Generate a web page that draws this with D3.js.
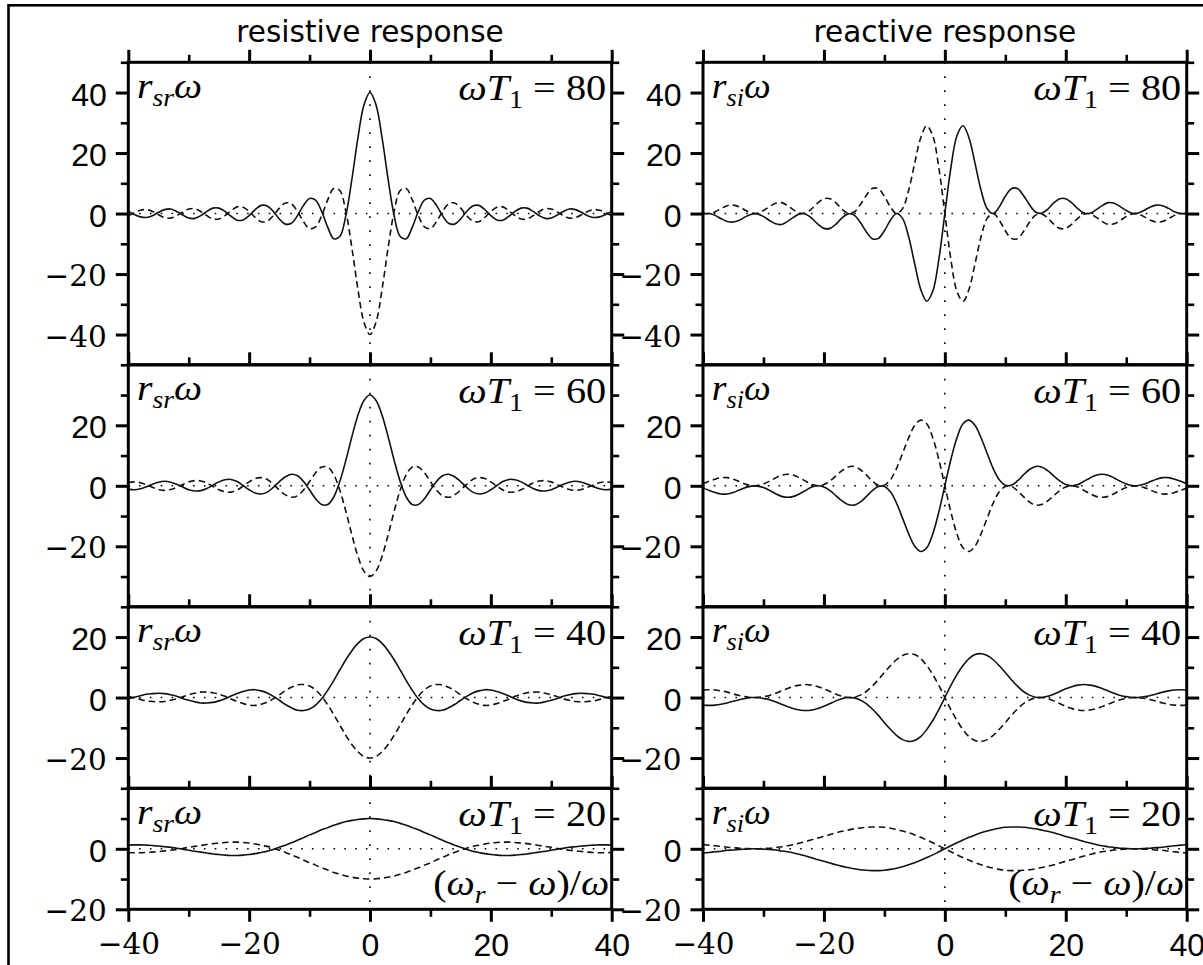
<!DOCTYPE html>
<html><head><meta charset="utf-8">
<script src="https://cdn.jsdelivr.net/npm/d3@7"></script>
<style>body{margin:0;background:#fff} svg{display:block}</style>
</head><body>
<svg id="chart" width="1203" height="965"></svg>
<script>
// ---------- data ----------
const xValues = [-40,-39,-38,-37,-36,-35,-34,-33,-32,-31,-30,-29,-28,-27,-26,-25,-24,-23,-22,-21,-20,-19,-18,-17,-16,-15,-14,-13,-12,-11,-10,-9,-8,-7,-6,-5,-4,-3,-2,-1,0,1,2,3,4,5,6,7,8,9,10,11,12,13,14,15,16,17,18,19,20,21,22,23,24,25,26,27,28,29,30,31,32,33,34,35,36,37,38,39,40];
const omegaT1 = [80, 60, 40, 20];
const columnTitles = ["resistive response", "reactive response"];
const xTicksMajor = [-40, -20, 0, 20, 40];
const xTicksMinor = [-30, -10, 10, 30];
const rowLimits = [50, 40, 30, 20];
const rowTicksMajor = [[-40,-20,0,20,40], [-20,0,20], [-20,0,20], [-20,0]];
const rowTicksMinor = [[-50,-30,-10,10,30,50], [-30,-10,10,30], [-30,-10,10,30], [-10,10]];

const resistiveSolid80 = [0.7,-0.3,-1.1,-1.3,-0.7,0.4,1.3,1.5,0.7,-0.5,-1.5,-1.6,-0.7,0.7,1.8,1.8,0.7,-0.9,-2.2,-2.1,-0.7,1.3,2.7,2.5,0.7,-1.8,-3.5,-3.2,-0.7,2.7,5.0,4.4,0.7,-4.5,-8.3,-7.6,-0.7,11.3,25.0,35.9,40.0,35.9,25.0,11.3,-0.7,-7.6,-8.3,-4.5,0.7,4.4,5.0,2.7,-0.7,-3.2,-3.5,-1.8,0.7,2.5,2.7,1.3,-0.7,-2.1,-2.2,-0.9,0.7,1.8,1.8,0.7,-0.7,-1.6,-1.5,-0.5,0.7,1.5,1.3,0.4,-0.7,-1.3,-1.1,-0.3,0.7];
const resistiveDashed80 = [-0.7,0.3,1.1,1.3,0.7,-0.4,-1.3,-1.5,-0.7,0.5,1.5,1.6,0.7,-0.7,-1.8,-1.8,-0.7,0.9,2.2,2.1,0.7,-1.3,-2.7,-2.5,-0.7,1.8,3.5,3.2,0.7,-2.7,-5.0,-4.4,-0.7,4.5,8.3,7.6,0.7,-11.3,-25.0,-35.9,-40.0,-35.9,-25.0,-11.3,0.7,7.6,8.3,4.5,-0.7,-4.4,-5.0,-2.7,0.7,3.2,3.5,1.8,-0.7,-2.5,-2.7,-1.3,0.7,2.1,2.2,0.9,-0.7,-1.8,-1.8,-0.7,0.7,1.6,1.5,0.5,-0.7,-1.5,-1.3,-0.4,0.7,1.3,1.1,0.3,-0.7];
const resistiveSolid60 = [-1.1,-1.3,-1.0,-0.3,0.5,1.2,1.5,1.2,0.5,-0.4,-1.3,-1.7,-1.6,-0.9,0.2,1.3,2.0,2.1,1.4,0.1,-1.3,-2.4,-2.7,-2.1,-0.5,1.4,3.0,3.8,3.3,1.4,-1.4,-4.3,-6.2,-6.2,-3.7,1.4,8.4,16.2,23.3,28.2,30.0,28.2,23.3,16.2,8.4,1.4,-3.7,-6.2,-6.2,-4.3,-1.4,1.4,3.3,3.8,3.0,1.4,-0.5,-2.1,-2.7,-2.4,-1.3,0.1,1.4,2.1,2.0,1.3,0.2,-0.9,-1.6,-1.7,-1.3,-0.4,0.5,1.2,1.5,1.2,0.5,-0.3,-1.0,-1.3,-1.1];
const resistiveDashed60 = [1.1,1.3,1.0,0.3,-0.5,-1.2,-1.5,-1.2,-0.5,0.4,1.3,1.7,1.6,0.9,-0.2,-1.3,-2.0,-2.1,-1.4,-0.1,1.3,2.4,2.7,2.1,0.5,-1.4,-3.0,-3.8,-3.3,-1.4,1.4,4.3,6.2,6.2,3.7,-1.4,-8.4,-16.2,-23.3,-28.2,-30.0,-28.2,-23.3,-16.2,-8.4,-1.4,3.7,6.2,6.2,4.3,1.4,-1.4,-3.3,-3.8,-3.0,-1.4,0.5,2.1,2.7,2.4,1.3,-0.1,-1.4,-2.1,-2.0,-1.3,-0.2,0.9,1.6,1.7,1.3,0.4,-0.5,-1.2,-1.5,-1.2,-0.5,0.3,1.0,1.3,1.1];
const resistiveSolid40 = [-0.4,0.1,0.6,1.1,1.3,1.4,1.3,0.9,0.4,-0.3,-0.9,-1.4,-1.8,-1.8,-1.6,-1.1,-0.4,0.5,1.3,2.0,2.5,2.6,2.2,1.5,0.4,-0.9,-2.3,-3.4,-4.2,-4.3,-3.8,-2.5,-0.4,2.4,5.6,9.1,12.5,15.5,17.9,19.5,20.0,19.5,17.9,15.5,12.5,9.1,5.6,2.4,-0.4,-2.5,-3.8,-4.3,-4.2,-3.4,-2.3,-0.9,0.4,1.5,2.2,2.6,2.5,2.0,1.3,0.5,-0.4,-1.1,-1.6,-1.8,-1.8,-1.4,-0.9,-0.3,0.4,0.9,1.3,1.4,1.3,1.1,0.6,0.1,-0.4];
const resistiveDashed40 = [0.4,-0.1,-0.6,-1.1,-1.3,-1.4,-1.3,-0.9,-0.4,0.3,0.9,1.4,1.8,1.8,1.6,1.1,0.4,-0.5,-1.3,-2.0,-2.5,-2.6,-2.2,-1.5,-0.4,0.9,2.3,3.4,4.2,4.3,3.8,2.5,0.4,-2.4,-5.6,-9.1,-12.5,-15.5,-17.9,-19.5,-20.0,-19.5,-17.9,-15.5,-12.5,-9.1,-5.6,-2.4,0.4,2.5,3.8,4.3,4.2,3.4,2.3,0.9,-0.4,-1.5,-2.2,-2.6,-2.5,-2.0,-1.3,-0.5,0.4,1.1,1.6,1.8,1.8,1.4,0.9,0.3,-0.4,-0.9,-1.3,-1.4,-1.3,-1.1,-0.6,-0.1,0.4];
const resistiveSolid20 = [1.2,1.3,1.3,1.2,1.1,0.9,0.7,0.5,0.2,-0.1,-0.5,-0.8,-1.1,-1.4,-1.7,-1.9,-2.1,-2.2,-2.2,-2.1,-1.9,-1.6,-1.2,-0.8,-0.2,0.5,1.2,2.0,2.8,3.7,4.6,5.4,6.3,7.0,7.8,8.4,9.0,9.4,9.7,9.9,10.0,9.9,9.7,9.4,9.0,8.4,7.8,7.0,6.3,5.4,4.6,3.7,2.8,2.0,1.2,0.5,-0.2,-0.8,-1.2,-1.6,-1.9,-2.1,-2.2,-2.2,-2.1,-1.9,-1.7,-1.4,-1.1,-0.8,-0.5,-0.1,0.2,0.5,0.7,0.9,1.1,1.2,1.3,1.3,1.2];
const resistiveDashed20 = [-1.2,-1.3,-1.3,-1.2,-1.1,-0.9,-0.7,-0.5,-0.2,0.1,0.5,0.8,1.1,1.4,1.7,1.9,2.1,2.2,2.2,2.1,1.9,1.6,1.2,0.8,0.2,-0.5,-1.2,-2.0,-2.8,-3.7,-4.6,-5.4,-6.3,-7.0,-7.8,-8.4,-9.0,-9.4,-9.7,-9.9,-10.0,-9.9,-9.7,-9.4,-9.0,-8.4,-7.8,-7.0,-6.3,-5.4,-4.6,-3.7,-2.8,-2.0,-1.2,-0.5,0.2,0.8,1.2,1.6,1.9,2.1,2.2,2.2,2.1,1.9,1.7,1.4,1.1,0.8,0.5,0.1,-0.2,-0.5,-0.7,-0.9,-1.1,-1.2,-1.3,-1.3,-1.2];

const reactiveSolid80 = [-0.2,0.0,-0.6,-1.7,-2.6,-2.8,-2.2,-1.1,-0.2,-0.1,-1.0,-2.3,-3.4,-3.6,-2.6,-1.2,-0.1,-0.2,-1.6,-3.5,-4.9,-4.9,-3.5,-1.4,-0.1,-0.5,-2.9,-6.0,-8.3,-8.2,-5.7,-2.2,0.0,-1.6,-7.6,-16.5,-25.0,-29.0,-25.7,-15.2,0.0,15.2,25.7,29.0,25.0,16.5,7.6,1.6,0.0,2.2,5.7,8.2,8.3,6.0,2.9,0.5,0.1,1.4,3.5,4.9,4.9,3.5,1.6,0.2,0.1,1.2,2.6,3.6,3.4,2.3,1.0,0.1,0.2,1.1,2.2,2.8,2.6,1.7,0.6,0.0,0.2];
const reactiveDashed80 = [0.2,0.0,0.6,1.7,2.6,2.8,2.2,1.1,0.2,0.1,1.0,2.3,3.4,3.6,2.6,1.2,0.1,0.2,1.6,3.5,4.9,4.9,3.5,1.4,0.1,0.5,2.9,6.0,8.3,8.2,5.7,2.2,0.0,1.6,7.6,16.5,25.0,29.0,25.7,15.2,0.0,-15.2,-25.7,-29.0,-25.0,-16.5,-7.6,-1.6,0.0,-2.2,-5.7,-8.2,-8.3,-6.0,-2.9,-0.5,-0.1,-1.4,-3.5,-4.9,-4.9,-3.5,-1.6,-0.2,-0.1,-1.2,-2.6,-3.6,-3.4,-2.3,-1.0,-0.1,-0.2,-1.1,-2.2,-2.8,-2.6,-1.7,-0.6,0.0,-0.2];
const reactiveSolid60 = [-0.7,-1.5,-2.2,-2.7,-2.7,-2.2,-1.4,-0.6,-0.1,-0.1,-0.6,-1.5,-2.6,-3.5,-3.8,-3.5,-2.6,-1.5,-0.4,0.0,-0.4,-1.6,-3.3,-5.0,-6.2,-6.4,-5.4,-3.6,-1.6,-0.2,-0.2,-2.0,-5.7,-10.7,-15.8,-19.9,-21.7,-20.5,-15.9,-8.7,0.0,8.7,15.9,20.5,21.7,19.9,15.8,10.7,5.7,2.0,0.2,0.2,1.6,3.6,5.4,6.4,6.2,5.0,3.3,1.6,0.4,0.0,0.4,1.5,2.6,3.5,3.8,3.5,2.6,1.5,0.6,0.1,0.1,0.6,1.4,2.2,2.7,2.7,2.2,1.5,0.7];
const reactiveDashed60 = [0.7,1.5,2.2,2.7,2.7,2.2,1.4,0.6,0.1,0.1,0.6,1.5,2.6,3.5,3.8,3.5,2.6,1.5,0.4,0.0,0.4,1.6,3.3,5.0,6.2,6.4,5.4,3.6,1.6,0.2,0.2,2.0,5.7,10.7,15.8,19.9,21.7,20.5,15.9,8.7,0.0,-8.7,-15.9,-20.5,-21.7,-19.9,-15.8,-10.7,-5.7,-2.0,-0.2,-0.2,-1.6,-3.6,-5.4,-6.4,-6.2,-5.0,-3.3,-1.6,-0.4,0.0,-0.4,-1.5,-2.6,-3.5,-3.8,-3.5,-2.6,-1.5,-0.6,-0.1,-0.1,-0.6,-1.4,-2.2,-2.7,-2.7,-2.2,-1.5,-0.7];
const reactiveSolid40 = [-2.5,-2.6,-2.5,-2.2,-1.8,-1.2,-0.7,-0.3,0.0,0.0,-0.3,-0.7,-1.4,-2.2,-3.0,-3.7,-4.1,-4.3,-4.1,-3.6,-2.9,-2.0,-1.1,-0.4,0.0,-0.1,-0.8,-2.0,-3.8,-5.9,-8.3,-10.5,-12.5,-13.9,-14.5,-14.2,-12.9,-10.6,-7.6,-4.0,0.0,4.0,7.6,10.6,12.9,14.2,14.5,13.9,12.5,10.5,8.3,5.9,3.8,2.0,0.8,0.1,0.0,0.4,1.1,2.0,2.9,3.6,4.1,4.3,4.1,3.7,3.0,2.2,1.4,0.7,0.3,0.0,0.0,0.3,0.7,1.2,1.8,2.2,2.5,2.6,2.5];
const reactiveDashed40 = [2.5,2.6,2.5,2.2,1.8,1.2,0.7,0.3,0.0,0.0,0.3,0.7,1.4,2.2,3.0,3.7,4.1,4.3,4.1,3.6,2.9,2.0,1.1,0.4,0.0,0.1,0.8,2.0,3.8,5.9,8.3,10.5,12.5,13.9,14.5,14.2,12.9,10.6,7.6,4.0,0.0,-4.0,-7.6,-10.6,-12.9,-14.2,-14.5,-13.9,-12.5,-10.5,-8.3,-5.9,-3.8,-2.0,-0.8,-0.1,0.0,-0.4,-1.1,-2.0,-2.9,-3.6,-4.1,-4.3,-4.1,-3.7,-3.0,-2.2,-1.4,-0.7,-0.3,0.0,0.0,-0.3,-0.7,-1.2,-1.8,-2.2,-2.5,-2.6,-2.5];
const reactiveSolid20 = [-1.4,-1.2,-1.0,-0.8,-0.5,-0.4,-0.2,-0.1,0.0,0.0,-0.1,-0.2,-0.4,-0.7,-1.0,-1.4,-1.9,-2.4,-3.0,-3.6,-4.1,-4.7,-5.3,-5.8,-6.2,-6.6,-6.9,-7.1,-7.2,-7.2,-7.1,-6.8,-6.4,-5.9,-5.3,-4.6,-3.8,-2.9,-2.0,-1.0,0.0,1.0,2.0,2.9,3.8,4.6,5.3,5.9,6.4,6.8,7.1,7.2,7.2,7.1,6.9,6.6,6.2,5.8,5.3,4.7,4.1,3.6,3.0,2.4,1.9,1.4,1.0,0.7,0.4,0.2,0.1,0.0,0.0,0.1,0.2,0.4,0.5,0.8,1.0,1.2,1.4];
const reactiveDashed20 = [1.4,1.2,1.0,0.8,0.5,0.4,0.2,0.1,0.0,0.0,0.1,0.2,0.4,0.7,1.0,1.4,1.9,2.4,3.0,3.6,4.1,4.7,5.3,5.8,6.2,6.6,6.9,7.1,7.2,7.2,7.1,6.8,6.4,5.9,5.3,4.6,3.8,2.9,2.0,1.0,0.0,-1.0,-2.0,-2.9,-3.8,-4.6,-5.3,-5.9,-6.4,-6.8,-7.1,-7.2,-7.2,-7.1,-6.9,-6.6,-6.2,-5.8,-5.3,-4.7,-4.1,-3.6,-3.0,-2.4,-1.9,-1.4,-1.0,-0.7,-0.4,-0.2,-0.1,0.0,0.0,-0.1,-0.2,-0.4,-0.5,-0.8,-1.0,-1.2,-1.4];

// ---------- layout ----------
const W = 1203, H = 965;
const plotTop = 62.3, pxPerUnit = 3.025;
const SANS = "'Liberation Sans', Arial, sans-serif";
const SERIF = "'DejaVu Serif', serif";
const TITLE = "'DejaVu Sans', sans-serif";
const MATH = "'Liberation Serif', serif";

const svg = d3.select("#chart");
svg.append("rect").attr("width", W).attr("height", H).attr("fill", "#fff");
svg.append("rect").attr("x", 8.5).attr("y", 5.3).attr("width", 1400).attr("height", 1200)
  .attr("fill", "none").attr("stroke", "#000").attr("stroke-width", 2.6);

const rows = omegaT1.map((w, i) => ({ w, lim: rowLimits[i], major: rowTicksMajor[i], minor: rowTicksMinor[i] }));
let acc = plotTop;
rows.forEach(r => { r.top = acc; r.bottom = acc + 2 * r.lim * pxPerUnit; acc = r.bottom; });

const columns = [
  { title: columnTitles[0], left: 128.3, right: 611.7, sub: "sr", subW: 65,
    solid: [resistiveSolid80, resistiveSolid60, resistiveSolid40, resistiveSolid20],
    dashed: [resistiveDashed80, resistiveDashed60, resistiveDashed40, resistiveDashed20] },
  { title: columnTitles[1], left: 703, right: 1186.7, sub: "si", subW: 59,
    solid: [reactiveSolid80, reactiveSolid60, reactiveSolid40, reactiveSolid20],
    dashed: [reactiveDashed80, reactiveDashed60, reactiveDashed40, reactiveDashed20] }
];

const fmt = d => d < 0 ? "\u2212" + (-d) : String(d);

// tick label: positive values in sans, negative values in serif (as in the reference)
function styleTickText(sel) {
  sel.each(function (d) {
    const t = d3.select(this);
    t.attr("fill", "#000");
    if (d < 0) t.style("font-family", SERIF).style("font-size", "29.5px");
    else t.style("font-family", SANS).style("font-size", "32px");
  });
}

function mathText(g, xStart, yBase, parts, width, size) {
  size = size || 34;
  const t = g.append("text").attr("x", xStart).attr("y", yBase)
    .style("font-family", MATH).style("font-size", size + "px").attr("fill", "#000")
    .attr("textLength", width).attr("lengthAdjust", "spacingAndGlyphs")
    .style("white-space", "pre");
  let shifted = false;
  parts.forEach(p => {
    const s = t.append("tspan").text(p.t).style("font-style", p.it ? "italic" : "normal");
    if (p.sub) { s.style("font-size", Math.round(size * 0.7) + "px"); if (!shifted) { s.attr("dy", 8); shifted = true; } }
    else if (shifted) { s.attr("dy", -8); shifted = false; }
  });
}

function styleAxis(sel, width) {
  sel.select(".domain").remove();
  sel.selectAll(".tick line").attr("stroke", "#000").attr("stroke-width", width);
}

columns.forEach(col => {
  const x = d3.scaleLinear().domain([-40, 40]).range([col.left, col.right]);
  svg.append("text").attr("x", x(0)).attr("y", 42.3).attr("text-anchor", "middle")
    .style("font-family", TITLE).style("font-size", "29.5px").attr("fill", "#000").text(col.title);
});

rows.forEach((row, ri) => {
  columns.forEach((col, ci) => {
    const x = d3.scaleLinear().domain([-40, 40]).range([col.left, col.right]);
    const y = d3.scaleLinear().domain([-row.lim, row.lim]).range([row.bottom, row.top]);
    const g = svg.append("g");
    const clipId = `clip-${ri}-${ci}`;
    g.append("clipPath").attr("id", clipId).append("rect")
      .attr("x", col.left).attr("y", row.top).attr("width", col.right - col.left).attr("height", row.bottom - row.top);
    const inner = g.append("g").attr("clip-path", `url(#${clipId})`);

    inner.append("line").attr("x1", x(-40)).attr("x2", x(40)).attr("y1", y(0)).attr("y2", y(0))
      .attr("stroke", "#000").attr("stroke-width", 1.6).attr("stroke-dasharray", "1.6,9.2");
    inner.append("line").attr("x1", x(0)).attr("x2", x(0)).attr("y1", row.top).attr("y2", row.bottom)
      .attr("stroke", "#000").attr("stroke-width", 1.6).attr("stroke-dasharray", "1.6,12.4");

    const line = d3.line().x((d, i) => x(xValues[i])).y(d => y(d)).curve(d3.curveCatmullRom.alpha(0.5));
    inner.append("path").datum(col.solid[ri]).attr("d", line)
      .attr("fill", "none").attr("stroke", "#111").attr("stroke-width", 1.6);
    inner.append("path").datum(col.dashed[ri]).attr("d", line)
      .attr("fill", "none").attr("stroke", "#111").attr("stroke-width", 1.6).attr("stroke-dasharray", "6.5,4");

    // labels
    mathText(g, col.left + 8.7, row.top + 35.5,
      [{ t: "r", it: 1 }, { t: col.sub, it: 1, sub: 1 }, { t: "\u03c9", it: 1 }], col.subW, 36);
    mathText(g, col.right - 153.5, row.top + 38,
      [{ t: "\u03c9", it: 1 }, { t: "T", it: 1 }, { t: "1", sub: 1 }, { t: " = " + row.w }], 148, 36);
    if (ri === rows.length - 1) {
      mathText(g, col.right - 178.5, row.bottom - 14.5,
        [{ t: "(" }, { t: "\u03c9", it: 1 }, { t: "r", it: 1, sub: 1 }, { t: " \u2212 " }, { t: "\u03c9", it: 1 }, { t: ")/" }, { t: "\u03c9", it: 1 }], 176, 36);
    }

    // frame
    g.append("rect").attr("x", col.left).attr("y", row.top)
      .attr("width", col.right - col.left).attr("height", row.bottom - row.top)
      .attr("fill", "none").attr("stroke", "#000").attr("stroke-width", 3);

    // top ticks (outward)
    g.append("g").attr("transform", `translate(0,${row.top})`)
      .call(d3.axisTop(x).tickValues(xTicksMajor).tickSize(12.5).tickFormat(""))
      .call(s => styleAxis(s, 3));
    g.append("g").attr("transform", `translate(0,${row.top})`)
      .call(d3.axisTop(x).tickValues(xTicksMinor).tickSize(7.5).tickFormat(""))
      .call(s => styleAxis(s, 2.6));

    // left ticks + labels
    const la = g.append("g").attr("transform", `translate(${col.left},0)`)
      .call(d3.axisLeft(y).tickValues(row.major).tickSize(12.5).tickPadding(9).tickFormat(fmt))
      .call(s => styleAxis(s, 3));
    la.selectAll(".tick text").attr("dy", "0.39em").call(styleTickText);
    g.append("g").attr("transform", `translate(${col.left},0)`)
      .call(d3.axisLeft(y).tickValues(row.minor).tickSize(7.5).tickFormat(""))
      .call(s => styleAxis(s, 2.6));

    // right ticks
    g.append("g").attr("transform", `translate(${col.right},0)`)
      .call(d3.axisRight(y).tickValues(row.major).tickSize(12.5).tickFormat(""))
      .call(s => styleAxis(s, 3));
    g.append("g").attr("transform", `translate(${col.right},0)`)
      .call(d3.axisRight(y).tickValues(row.minor).tickSize(7.5).tickFormat(""))
      .call(s => styleAxis(s, 2.6));

    // bottom axis on the last row
    if (ri === rows.length - 1) {
      const ba = g.append("g").attr("transform", `translate(0,${row.bottom})`)
        .call(d3.axisBottom(x).tickValues(xTicksMajor).tickSize(12.5).tickPadding(11).tickFormat(fmt))
        .call(s => styleAxis(s, 3));
      ba.selectAll(".tick text").call(styleTickText);
      g.append("g").attr("transform", `translate(0,${row.bottom})`)
        .call(d3.axisBottom(x).tickValues(xTicksMinor).tickSize(7.5).tickFormat(""))
        .call(s => styleAxis(s, 2.6));
    }
  });
});
</script>
</body></html>
